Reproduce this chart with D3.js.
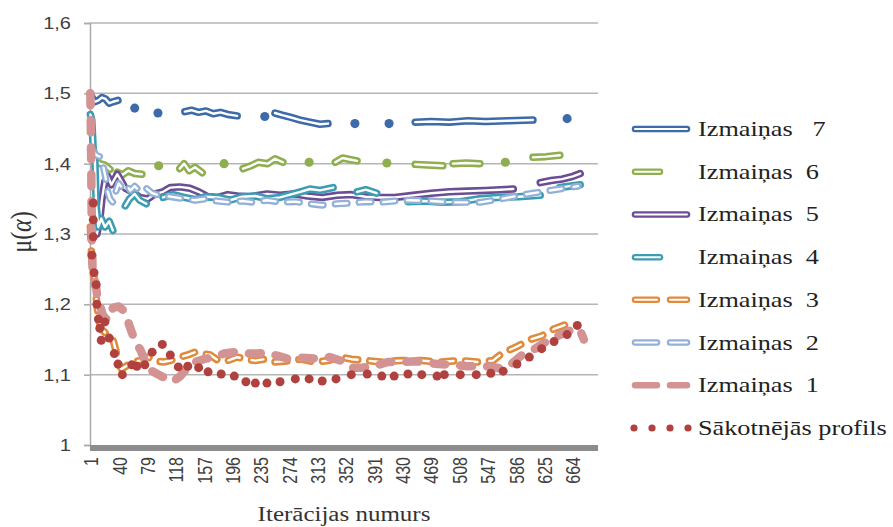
<!DOCTYPE html>
<html lang="lv">
<head>
<meta charset="utf-8">
<title>Izmaiņas</title>
<script src="https://cdn.jsdelivr.net/npm/d3@7"></script>
</head>
<body style="margin:0">
<div id="chart"></div>
<script>
// tick labels on the category axis (every 39th iteration)
var xTicks = [1, 40, 79, 118, 157, 196, 235, 274, 313, 352, 391, 430, 469, 508, 547, 586, 625, 664];
var yTicks = [1, 1.1, 1.2, 1.3, 1.4, 1.5, 1.6];

// [iteration, mu] pairs, null = gap in the drawn line
var izm7 = [[1,1.50],[3,1.495],[7,1.488],[12,1.49],[17,1.494],[22,1.492],[27,1.486],[32,1.488],[39,1.49], null,
  [62,1.479], null, [94,1.472], null,
  [131,1.474],[140,1.476],[150,1.473],[160,1.475],[170,1.471],[180,1.473],[190,1.470],[203,1.468], null,
  [241,1.467], null,
  [255,1.472],[265,1.469],[276,1.466],[290,1.462],[303,1.459],[317,1.456],[328,1.457], null,
  [365,1.457], null, [412,1.457], null,
  [448,1.459],[470,1.460],[495,1.459],[520,1.461],[545,1.460],[575,1.461],[610,1.462], null,
  [657,1.464]];

var izm6 = [[3,1.415],[8,1.405],[14,1.40],[21,1.398],[28,1.392], null,
  [38,1.388],[45,1.384],[53,1.39],[62,1.386],[72,1.385], null,
  [95,1.397], null,
  [124,1.393],[130,1.40],[137,1.39],[145,1.395],[155,1.387], null,
  [185,1.40], null,
  [211,1.393],[222,1.397],[232,1.402],[245,1.400],[255,1.407],[266,1.402], null,
  [302,1.402], null,
  [338,1.402],[348,1.408],[358,1.406],[368,1.404], null,
  [409,1.401], null,
  [448,1.399],[465,1.398],[486,1.397], null,
  [500,1.400],[518,1.401],[537,1.400], null,
  [572,1.402], null,
  [610,1.409],[628,1.410],[647,1.412]];

var izm5 = [[10,1.30],[14,1.32],[17,1.35],[21,1.375],[25,1.382],[30,1.37],[38,1.385],[42,1.378],[49,1.365],
  [58,1.36],[69,1.352],[80,1.35],[90,1.357],[101,1.36],[111,1.366],[124,1.367],[138,1.365],[150,1.36],
  [163,1.353],[177,1.352],[190,1.356],[203,1.354],[221,1.353],[244,1.357],[262,1.355],[280,1.357],
  [300,1.354],[320,1.352],[340,1.355],[360,1.356],[380,1.353],[400,1.352],[420,1.352],[445,1.355],
  [470,1.358],[495,1.360],[520,1.361],[545,1.362],[565,1.363],[583,1.364], null,
  [620,1.373],[635,1.376],[650,1.378],[665,1.382],[675,1.386]];

var izm4 = [[1,1.47],[3,1.462],[5,1.42],[7,1.412],[9,1.34],[12,1.31],[16,1.322],[21,1.31],[27,1.318],[32,1.305], null,
  [49,1.34],[55,1.35],[62,1.357],[69,1.348],[78,1.343], null,
  [101,1.352],[115,1.356],[130,1.352],[145,1.349],[160,1.353],[177,1.352],[193,1.348],[210,1.353],
  [228,1.354],[245,1.35],[262,1.352],[276,1.356],[290,1.36],[303,1.364],[317,1.362],[335,1.366], null,
  [368,1.36],[380,1.363],[395,1.358], null,
  [438,1.346],[460,1.347],[485,1.345],[510,1.346],[535,1.35],[561,1.352],[590,1.353],[620,1.355], null,
  [647,1.366],[660,1.368],[675,1.37]];

var izm3 = [[1,1.31],[3,1.26],[6,1.24],[9,1.21],[12,1.18],[16,1.165],[21,1.16],[27,1.155],[32,1.15],[36,1.135],
  [40,1.115],[44,1.108],[50,1.112],[58,1.118],[69,1.12],[80,1.125],[90,1.12],[101,1.118],[111,1.12],
  [124,1.125],[135,1.128],[145,1.132],[155,1.13],[166,1.128],[177,1.12],[190,1.12],[203,1.125],[215,1.122],
  [228,1.12],[241,1.122],[255,1.118],[276,1.12],[290,1.122],[310,1.118],[328,1.12],[345,1.125],[360,1.122],
  [382,1.12],[400,1.118],[427,1.12],[457,1.12],[482,1.118],[510,1.12],[533,1.118],[555,1.12],[567,1.13],
  [588,1.14],[606,1.15],[622,1.155],[639,1.165],[657,1.172],[668,1.178]];

var izm2 = [[1,1.42],[5,1.418],[9,1.412],[14,1.41],[18,1.40],[22,1.38],[25,1.36],[28,1.35],[32,1.345],[36,1.36],
  [40,1.372],[45,1.365],[50,1.37],[56,1.362],[62,1.368],[70,1.36],[78,1.365],[86,1.358],[95,1.355],[105,1.354],
  [118,1.352],[130,1.35],[145,1.348],[160,1.35],[175,1.347],[193,1.345],[210,1.347],[225,1.345],[244,1.348],
  [265,1.345],[283,1.346],[303,1.343],[320,1.341],[340,1.343],[360,1.344],[380,1.346],[400,1.345],[420,1.347],
  [440,1.348],[468,1.347],[500,1.345],[537,1.345],[567,1.35],[592,1.355],[622,1.36],[647,1.364],[672,1.368]];

var izm1 = [[1,1.50],[2,1.42],[3,1.30],[4,1.25],[7,1.24],[10,1.215],[14,1.20],[18,1.185],[22,1.18],[27,1.178],
  [32,1.195],[40,1.197],[48,1.19],[53,1.175],[58,1.16],[64,1.145],[70,1.135],[78,1.115],[86,1.105],[95,1.10],
  [104,1.095],[114,1.09],[125,1.098],[135,1.11],[145,1.118],[157,1.122],[170,1.125],[185,1.13],[200,1.132],
  [215,1.13],[230,1.13],[244,1.131],[258,1.127],[275,1.122],[290,1.124],[310,1.123],[330,1.125],[345,1.12],
  [360,1.11],[375,1.11],[392,1.112],[410,1.118],[430,1.118],[450,1.119],[465,1.117],[480,1.115],[500,1.114],
  [520,1.112],[540,1.112],[555,1.111],[568,1.108],[580,1.115],[595,1.128],[610,1.135],[625,1.145],[640,1.153],
  [655,1.16],[668,1.166],[675,1.163],[680,1.15]];

var sakotnejais = [[5,1.344],[5,1.32],[5,1.296],[3,1.27],[6,1.245],[9,1.228],[10,1.20],[12,1.179],[14,1.166],
  [21,1.175],[16,1.149],[27,1.152],[34,1.13],[39,1.115],[45,1.10],[58,1.114],[65,1.112],[76,1.114],[86,1.132],
  [100,1.143],[111,1.128],[122,1.111],[135,1.112],[150,1.11],[163,1.104],[181,1.101],[199,1.098],[215,1.09],
  [228,1.088],[244,1.088],[262,1.09],[283,1.094],[302,1.094],[320,1.091],[339,1.094],[360,1.10],[382,1.101],
  [402,1.098],[419,1.098],[438,1.101],[457,1.10],[478,1.098],[488,1.10],[510,1.10],[532,1.10],[552,1.102],
  [569,1.105],[588,1.115],[605,1.125],[622,1.137],[639,1.147],[657,1.157],[671,1.17]];

var seriesNames = ["Izmaiņas   7", "Izmaiņas  6", "Izmaiņas  5", "Izmaiņas  4",
                   "Izmaiņas  3", "Izmaiņas  2", "Izmaiņas  1", "Sākotnējās profils"];

// styles for every series, in legend order
var series = [
  {data: izm7, color: "#3d6ba9", w: 7.5, inner: true,  dash: null,    sample: 58},
  {data: izm6, color: "#8fae4f", w: 7.5, inner: true,  dash: null,    sample: 31},
  {data: izm5, color: "#6a4d92", w: 7.5, inner: true,  dash: null,    sample: 58},
  {data: izm4, color: "#3b9cb3", w: 7.5, inner: true,  dash: null,    sample: 31},
  {data: izm3, color: "#e08a3c", w: 7.5, inner: true,  dash: "12,12", sample: 58},
  {data: izm2, color: "#93b1d7", w: 7,   inner: true,  dash: "12,12", sample: 58},
  {data: izm1, color: "#d39393", w: 8.5, inner: false, dash: "12,15", sample: 58},
  {data: sakotnejais, color: "#b0413e", dots: true, sample: 58}
];
series.forEach(function (s, i) { s.name = seriesNames[i]; });

var stretch = 1.25; // text in the picture is widened horizontally
var SERIF = "'Liberation Serif'";
var SANS = "'Liberation Sans'";

var x = d3.scaleLinear().domain([0.5, 699.5]).range([90, 598]);
var y = d3.scaleLinear().domain([1, 1.6]).range([445, 23]);

var svg = d3.select("#chart").append("svg")
    .attr("width", 893)
    .attr("height", 527);

// gridlines
svg.append("g").selectAll("line")
    .data(yTicks.filter(function (d) { return d > 1; }))
    .enter().append("line")
    .attr("x1", x.range()[0]).attr("x2", x.range()[1])
    .attr("y1", function (d) { return y(d); })
    .attr("y2", function (d) { return y(d); })
    .attr("stroke", "#b5b5b5")
    .attr("stroke-width", 1.5);

// y axis
var fmt = function (d) { return d === 1 ? "1" : d3.format(".1f")(d).replace(".", ","); };
var yAxis = d3.axisLeft(y).tickValues(yTicks).tickSize(6).tickFormat(fmt);
var gy = svg.append("g").attr("transform", "translate(90,0)").call(yAxis);
gy.select(".domain").attr("stroke", "#aaa").attr("stroke-width", 1.5);
gy.selectAll(".tick line").attr("stroke", "#aaa").attr("stroke-width", 1.5);
gy.selectAll(".tick text").remove();
gy.selectAll(".tick").append("text")
    .attr("transform", "translate(-19,0) scale(" + stretch + ",1)")
    .attr("text-anchor", "end")
    .attr("dy", "0.35em")
    .attr("fill", "#404040")
    .style("font-family", SANS)
    .style("font-size", "16px")
    .text(fmt);

// heavy category axis at the bottom
svg.append("rect")
    .attr("x", x.range()[0]).attr("y", y(1))
    .attr("width", x.range()[1] - x.range()[0]).attr("height", 6)
    .attr("fill", "#8c8c8c");

svg.append("g").selectAll("text")
    .data(xTicks)
    .enter().append("text")
    .attr("transform", function (d) {
        return "translate(" + (x(d) + 1) + ",457) scale(" + stretch + ",1) rotate(-90)";
    })
    .attr("text-anchor", "end")
    .attr("dy", "0.35em")
    .attr("fill", "#404040")
    .style("font-family", SANS)
    .style("font-size", "16px")
    .text(function (d) { return d; });

// axis titles
svg.append("text")
    .attr("transform", "translate(344,521) scale(" + stretch + ",1)")
    .attr("text-anchor", "middle")
    .attr("fill", "#333")
    .style("font-family", SERIF)
    .style("font-size", "20px")
    .text("Iterācijas numurs");

var yt = svg.append("text")
    .attr("transform", "translate(31,232) scale(" + stretch + ",1) rotate(-90)")
    .attr("text-anchor", "middle")
    .attr("fill", "#333")
    .style("font-family", SERIF)
    .style("font-size", "24px");
yt.append("tspan").text("μ(");
yt.append("tspan").style("font-style", "italic").text("α");
yt.append("tspan").text(")");

// lines
var line = d3.line()
    .x(function (d) { return x(d[0]); })
    .y(function (d) { return y(d[1]); });

function splitSegments(arr) {
    var segs = [], cur = [];
    arr.forEach(function (p) {
        if (p === null) { if (cur.length) segs.push(cur); cur = []; }
        else cur.push(p);
    });
    if (cur.length) segs.push(cur);
    return segs;
}

var plot = svg.append("g");
series.forEach(function (s) {
    var g = plot.append("g");
    if (s.dots) {
        g.selectAll("circle").data(s.data).enter().append("circle")
            .attr("cx", function (d) { return x(d[0]); })
            .attr("cy", function (d) { return y(d[1]); })
            .attr("r", 4.5)
            .attr("fill", s.color);
        return;
    }
    splitSegments(s.data).forEach(function (seg) {
        if (seg.length === 1) {
            g.append("circle")
                .attr("cx", x(seg[0][0])).attr("cy", y(seg[0][1]))
                .attr("r", s.w / 2 + 0.8)
                .attr("fill", s.color);
            return;
        }
        g.append("path").datum(seg)
            .attr("d", line)
            .attr("fill", "none")
            .attr("stroke", s.color)
            .attr("stroke-width", s.w)
            .attr("stroke-linecap", "round")
            .attr("stroke-linejoin", "round")
            .attr("stroke-dasharray", s.dash);
        if (s.inner) {
            g.append("path").datum(seg)
                .attr("d", line)
                .attr("fill", "none")
                .attr("stroke", "#fff")
                .attr("stroke-width", 2.4)
                .attr("stroke-linecap", "round")
                .attr("stroke-linejoin", "round")
                .attr("stroke-dasharray", s.dash);
        }
    });
});

// legend
var legend = svg.append("g");
var rowY = d3.scaleLinear().domain([0, 7]).range([129, 428]);
series.forEach(function (s, i) {
    var ly = rowY(i);
    var g = legend.append("g");
    if (s.dots) {
        g.selectAll("circle").data(d3.range(4)).enter().append("circle")
            .attr("cx", function (d) { return 634 + d * 18; })
            .attr("cy", ly)
            .attr("r", 3.6)
            .attr("fill", s.color);
    } else {
        var pieces = s.dash ? [[635, 657], [670, 687]] : [[635, 632 + s.sample - 3]];
        pieces.forEach(function (p) {
            g.append("line")
                .attr("x1", p[0]).attr("x2", p[1]).attr("y1", ly).attr("y2", ly)
                .attr("stroke", s.color).attr("stroke-width", 6.5)
                .attr("stroke-linecap", "round");
            if (s.inner) {
                g.append("line")
                    .attr("x1", p[0]).attr("x2", p[1]).attr("y1", ly).attr("y2", ly)
                    .attr("stroke", "#fff").attr("stroke-width", 2)
                    .attr("stroke-linecap", "round");
            }
        });
    }
    g.append("text")
        .attr("transform", "translate(698," + (ly + 7) + ") scale(" + stretch + ",1)")
        .attr("fill", "#222")
        .style("font-family", SERIF)
        .style("font-size", "21px")
        .style("white-space", "pre")
        .text(s.name);
});
</script>
</body>
</html>
